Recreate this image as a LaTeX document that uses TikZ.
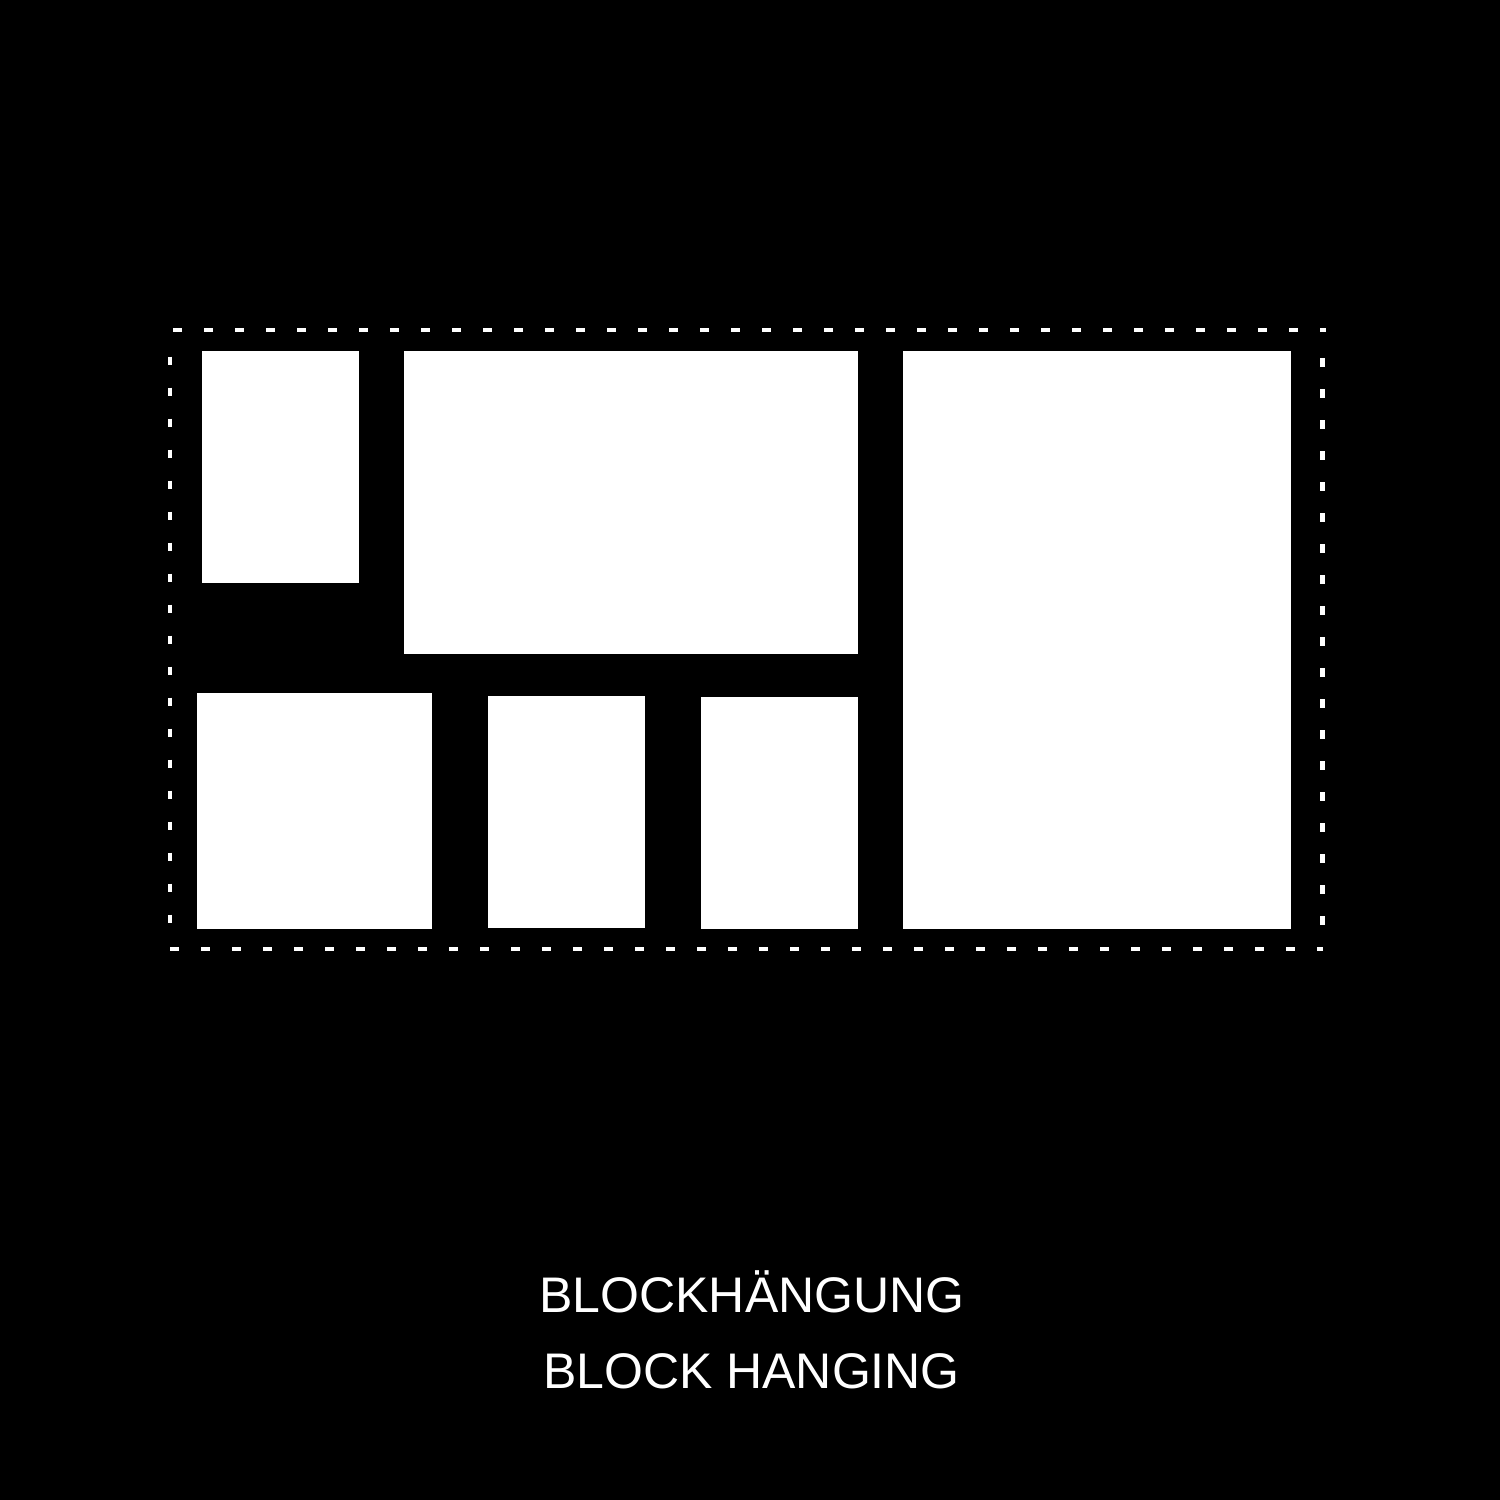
\documentclass[tikz,border=0pt]{standalone}
\usepackage{fontspec}
\setmainfont{Liberation Sans}
\begin{document}
\begin{tikzpicture}[x=1pt,y=-1pt,
  panel/.style={fill=white,draw=none},
  frame/.style={draw=white,line width=4.3pt,line cap=butt,dash pattern=on 8.7pt off 22.3pt},
  caption/.style={text=white,font=\fontsize{50pt}{60pt}\selectfont,anchor=base,inner sep=0pt}]
\fill[black] (0,0) rectangle (1500,1500);
\useasboundingbox (0,0) rectangle (1500,1500);
% dotted frame
\coordinate (tl) at (173.3,330);
\coordinate (tr) at (1326,330);
\coordinate (bl) at (170.3,948.7);
\coordinate (br) at (1323,948.7);
\coordinate (lt) at (170,356.7);
\coordinate (lb) at (170,924);
\coordinate (rt) at (1322.5,358.3);
\coordinate (rb) at (1322.5,926);
\draw[frame] (tl) -- (tr);
\draw[frame] (bl) -- (br);
\draw[frame] (lt) -- (lb);
\draw[frame] (rt) -- (rb);
% panels
\fill[panel] (202,351) rectangle (358.5,582.7);
\fill[panel] (404.3,351) rectangle (857.7,654.3);
\fill[panel] (903.3,351) rectangle (1290.5,929.3);
\fill[panel] (196.7,693.3) rectangle (432.3,929.3);
\fill[panel] (488.3,696) rectangle (645,928.3);
\fill[panel] (701,696.7) rectangle (857.7,929.3);
% captions
\node[caption] (cap1) at (752,1312) {BLOCKHÄNGUNG};
\node[caption] (cap2) at (751.5,1388) {BLOCK HANGING};
\end{tikzpicture}
\end{document}
